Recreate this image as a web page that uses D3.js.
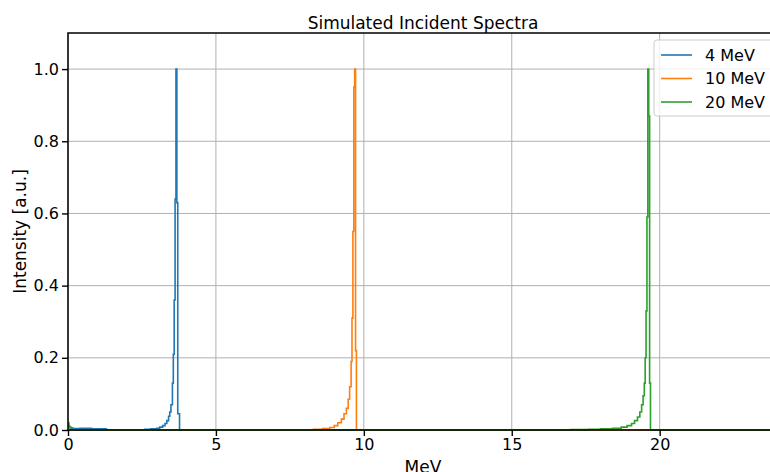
<!DOCTYPE html>
<html>
<head>
<meta charset="utf-8">
<script src="https://cdn.jsdelivr.net/npm/d3@7"></script>
<style>
  body { margin: 0; background: #fff; }
  svg { display: block; font-family: "DejaVu Sans", sans-serif; }
</style>
</head>
<body>
<div id="chart"></div>
<script>

// histogram bin edges (MeV) and intensities for each beam energy

let edges4 = [0, 0.05, 0.15, 0.4, 0.8, 1.3, 2.6, 2.8, 3.0, 3.1, 3.2, 3.28, 3.34, 3.4, 3.44, 3.48, 3.53, 3.56, 3.59, 3.62, 3.65, 3.68, 3.71, 3.77, 24];
let values4 = [0.012, 0.006, 0.004, 0.005, 0.003, 0, 0.002, 0.003, 0.005, 0.008, 0.012, 0.018, 0.026, 0.038, 0.05, 0.07, 0.13, 0.21, 0.36, 0.64, 1.0, 0.63, 0.045, 0];

let edges10 = [0, 8.3, 8.6, 8.85, 9.0, 9.12, 9.24, 9.33, 9.41, 9.47, 9.52, 9.57, 9.60, 9.63, 9.66, 9.69, 9.72, 9.75, 24];
let values10 = [0, 0.002, 0.004, 0.007, 0.012, 0.02, 0.03, 0.045, 0.06, 0.085, 0.12, 0.19, 0.31, 0.55, 0.95, 1.0, 0.22, 0];

let edges20 = [0, 0.03, 0.1, 17.0, 17.6, 18.0, 18.4, 18.7, 18.9, 19.05, 19.15, 19.25, 19.33, 19.39, 19.44, 19.48, 19.51, 19.54, 19.57, 19.60, 19.63, 19.66, 19.69, 24];
let values20 = [0.02, 0.008, 0, 0.001, 0.002, 0.003, 0.005, 0.008, 0.012, 0.018, 0.026, 0.036, 0.05, 0.07, 0.095, 0.13, 0.2, 0.33, 0.59, 1.0, 0.87, 0.13, 0];

let seriesNames = ["4 MeV", "10 MeV", "20 MeV"];
let colors = ["#1f77b4", "#ff7f0e", "#2ca02c"];

let xTicks = [0, 5, 10, 15, 20];
let yTicks = [0, 0.2, 0.4, 0.6, 0.8, 1.0];

let margin = { top: 33, right: -8, bottom: 42, left: 68 };
let fullW = 770, fullH = 472;
let width = fullW - margin.left - margin.right;
let height = fullH - margin.top - margin.bottom;

let x = d3.scaleLinear().domain([0, 24]).range([0, width]);
let y = d3.scaleLinear().domain([0, 1.1]).range([height, 0]);

let svg = d3.select("#chart")
  .append("svg")
    .attr("width", fullW)
    .attr("height", fullH)
  .append("g")
    .attr("transform", `translate(${margin.left},${margin.top})`);

svg.append("clipPath")
  .attr("id", "plot-clip")
  .append("rect")
  .attr("x", 0).attr("y", -1)
  .attr("width", width).attr("height", height + 2);

// grid lines

svg.selectAll(".xgrid")
  .data(xTicks)
  .join("line")
  .attr("x1", d => x(d)).attr("x2", d => x(d))
  .attr("y1", 0).attr("y2", height)
  .attr("stroke", "#b0b0b0")
  .attr("stroke-width", 1);

svg.selectAll(".ygrid")
  .data(yTicks)
  .join("line")
  .attr("x1", 0).attr("x2", width)
  .attr("y1", d => y(d)).attr("y2", d => y(d))
  .attr("stroke", "#b0b0b0")
  .attr("stroke-width", 1);

// step lines

let series = [
  { edges: edges4, values: values4 },
  { edges: edges10, values: values10 },
  { edges: edges20, values: values20 }
];

let line = d3.line()
  .x(d => x(d[0]))
  .y(d => y(d[1]))
  .curve(d3.curveStepAfter);

series.forEach((s, i) => {
  let pts = s.values.map((v, j) => [s.edges[j], v]);
  pts.push([s.edges[s.edges.length - 1], s.values[s.values.length - 1]]);
  svg.append("path")
    .datum(pts)
    .attr("clip-path", "url(#plot-clip)")
    .attr("fill", "none")
    .attr("stroke", colors[i])
    .attr("stroke-width", 1.6)
    .attr("d", line);
});

// axes

let xAxis = svg.append("g")
  .attr("transform", `translate(0,${height})`)
  .call(d3.axisBottom(x).tickValues(xTicks).tickFormat(d3.format("d")).tickSize(6).tickPadding(3));

let yAxis = svg.append("g")
  .call(d3.axisLeft(y).tickValues(yTicks).tickFormat(d3.format(".1f")).tickSize(6).tickPadding(3));

[xAxis, yAxis].forEach(g => {
  g.select(".domain").remove();
  g.selectAll(".tick line").attr("stroke", "#000").attr("stroke-width", 1.4);
  g.selectAll(".tick text")
    .attr("fill", "#000")
    .style("font-size", "16px")
    .style("font-family", "DejaVu Sans");
});

// spines

svg.append("rect")
  .attr("x", 0).attr("y", 0)
  .attr("width", width).attr("height", height)
  .attr("fill", "none")
  .attr("stroke", "#000")
  .attr("stroke-width", 1.5);

// titles

svg.append("text")
  .attr("x", width / 2)
  .attr("y", -4.5)
  .attr("text-anchor", "middle")
  .style("font-size", "17px")
  .text("Simulated Incident Spectra");

svg.append("text")
  .attr("x", width / 2)
  .attr("y", height + 43)
  .attr("text-anchor", "middle")
  .style("font-size", "17px")
  .text("MeV");

svg.append("text")
  .attr("transform", "rotate(-90)")
  .attr("x", -height / 2)
  .attr("y", -42)
  .attr("text-anchor", "middle")
  .style("font-size", "17px")
  .text("Intensity [a.u.]");

// legend

let legend = svg.append("g")
  .attr("transform", `translate(${586},${7})`);

legend.append("rect")
  .attr("width", 125).attr("height", 76)
  .attr("rx", 3)
  .attr("fill", "#fff").attr("fill-opacity", 0.8)
  .attr("stroke", "#cccccc");

seriesNames.forEach((name, i) => {
  let row = legend.append("g").attr("transform", `translate(0,${15 + i * 23.5})`);
  row.append("line")
    .attr("x1", 7).attr("x2", 38)
    .attr("stroke", colors[i]).attr("stroke-width", 1.6);
  row.append("text")
    .attr("x", 51).attr("dy", "0.35em")
    .style("font-size", "16px")
    .text(name);
});

</script>
</body>
</html>
